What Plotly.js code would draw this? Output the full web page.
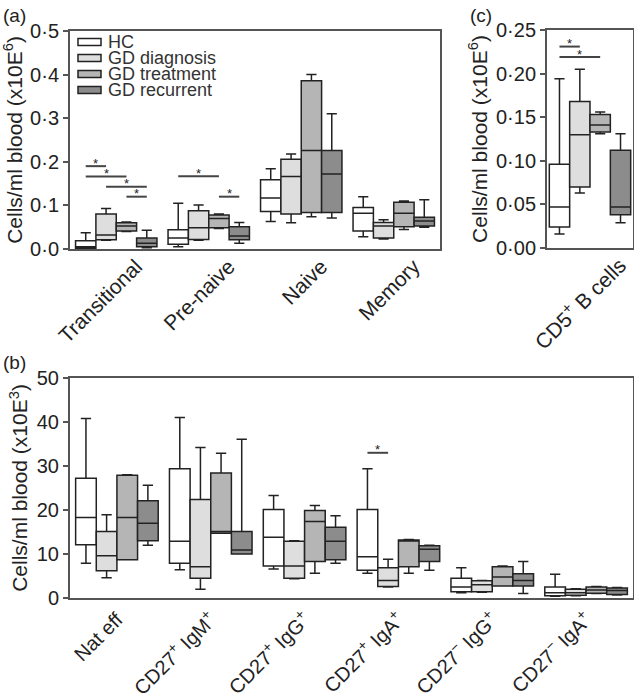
<!DOCTYPE html>
<html>
<head>
<meta charset="utf-8">
<script src="https://cdn.plot.ly/plotly-3.0.1.min.js"></script>
<style>html,body{margin:0;padding:0;background:#fff;}#chart{width:634px;height:700px;}</style>
</head>
<body>
<div id="chart"></div>
<script>
// ---------- DATA ----------
// group names (legend)
const groups = ['HC', 'GD diagnosis', 'GD treatment', 'GD recurrent'];

// panel (a)
const catsA = ['Transitional', 'Pre-naive', 'Naive', 'Memory'];
// each row: [lower whisker, Q1, median, Q3, upper whisker]
const a_HC    = [[0.000, 0.002, 0.005, 0.019, 0.037], [0.005, 0.011, 0.025, 0.044, 0.105], [0.063, 0.086, 0.117, 0.159, 0.184], [0.028, 0.041, 0.082, 0.095, 0.120]];
const a_Diag  = [[0.020, 0.021, 0.032, 0.080, 0.093], [0.020, 0.022, 0.049, 0.088, 0.101], [0.060, 0.080, 0.166, 0.206, 0.218], [0.023, 0.025, 0.053, 0.061, 0.067]];
const a_Treat = [[0.040, 0.041, 0.053, 0.060, 0.062], [0.047, 0.049, 0.070, 0.078, 0.080], [0.074, 0.084, 0.226, 0.386, 0.400], [0.045, 0.051, 0.082, 0.107, 0.110]];
const a_Rec   = [[0.003, 0.005, 0.013, 0.025, 0.043], [0.013, 0.021, 0.030, 0.051, 0.061], [0.071, 0.084, 0.172, 0.226, 0.310], [0.050, 0.053, 0.064, 0.073, 0.113]];

// panel (c)
const catsC = ['CD5<sup>+</sup> B cells'];
const c_HC    = [[0.016, 0.024, 0.047, 0.096, 0.194]];
const c_Diag  = [[0.063, 0.070, 0.130, 0.168, 0.205]];
const c_Treat = [[0.131, 0.133, 0.141, 0.153, 0.156]];
const c_Rec   = [[0.029, 0.038, 0.047, 0.112, 0.131]];

// panel (b)
const catsB = ['Nat eff', 'CD27<sup>+</sup> IgM<sup>+</sup>', 'CD27<sup>+</sup> IgG<sup>+</sup>', 'CD27<sup>+</sup> IgA<sup>+</sup>', 'CD27<sup>−</sup> IgG<sup>+</sup>', 'CD27<sup>−</sup> IgA<sup>+</sup>'];
const b_HC    = [[7.9, 12.1, 18.3, 27.2, 40.8], [6.4, 7.9, 12.9, 29.4, 41.0], [6.6, 7.3, 13.8, 20.1, 23.3], [5.6, 6.3, 9.4, 20.1, 29.4], [1.2, 1.4, 2.5, 4.5, 6.9], [0.4, 0.5, 1.2, 2.5, 5.4]];
const b_Diag  = [[4.6, 6.2, 9.6, 15.1, 18.9], [2.0, 4.5, 7.1, 22.4, 34.2], [4.4, 4.5, 7.3, 12.9, 13.0], [2.5, 2.6, 4.0, 6.9, 8.8], [1.3, 1.4, 3.0, 3.9, 4.0], [0.5, 0.6, 1.2, 2.0, 2.1]];
const b_Treat = [[8.7, 8.7, 18.3, 27.9, 28.0], [14.7, 14.7, 15.1, 28.4, 32.9], [5.6, 8.3, 17.4, 19.9, 21.0], [5.6, 7.1, 13.0, 13.2, 13.3], [2.7, 2.7, 4.8, 7.1, 7.3], [1.0, 1.1, 1.8, 2.5, 2.6]];
const b_Rec   = [[12.0, 13.0, 17.0, 22.1, 25.6], [10.0, 10.0, 10.9, 15.1, 36.1], [7.9, 8.7, 12.9, 16.1, 18.7], [6.3, 8.3, 11.1, 11.9, 12.0], [1.0, 2.7, 4.0, 5.5, 8.3], [0.7, 0.8, 1.7, 2.3, 2.4]];

// tick labels
const tickValsA = [0, 0.1, 0.2, 0.3, 0.4, 0.5];
const tickTextA = ['0·0', '0·1', '0·2', '0·3', '0·4', '0·5'];
const tickValsC = [0, 0.05, 0.10, 0.15, 0.20, 0.25];
const tickTextC = ['0·00', '0·05', '0·10', '0·15', '0·20', '0·25'];
const tickValsB = [0, 10, 20, 30, 40, 50];
const tickTextB = ['0', '10', '20', '30', '40', '50'];

// significance brackets: [category index, group i, group j, y]
const sigA = [[0, 0, 1, 0.19], [0, 0, 2, 0.166], [0, 1, 3, 0.143], [0, 2, 3, 0.12], [1, 0, 2, 0.167], [1, 2, 3, 0.12]];
const sigC = [[0, 0, 1, 0.231], [0, 0, 2, 0.219]];
const sigB = [[3, 0, 1, 33.0]];

// ---------- STYLE ----------
const fills = ['#ffffff', '#dedede', '#b5b5b5', '#8c8c8c'];
const FONT = 'Liberation Sans, Arial, sans-serif';
const W = 634, H = 700;
const BOXGAP = 0.12;

function boxTraces(cats, sets, xa, ya, agroup) {
  return sets.map((rows, g) => ({
    type: 'box',
    name: groups[g],
    x: cats,
    lowerfence: rows.map(r => r[0]),
    q1: rows.map(r => r[1]),
    median: rows.map(r => r[2]),
    q3: rows.map(r => r[3]),
    upperfence: rows.map(r => r[4]),
    xaxis: xa, yaxis: ya,
    alignmentgroup: agroup,
    offsetgroup: 'g' + g,
    fillcolor: fills[g],
    line: {color: '#222', width: 1.5},
    whiskerwidth: 0.5,
    showlegend: false,
    hoverinfo: 'skip'
  }));
}

const data = [].concat(
  boxTraces(catsA, [a_HC, a_Diag, a_Treat, a_Rec], 'x', 'y', 'A'),
  boxTraces(catsC, [c_HC, c_Diag, c_Treat, c_Rec], 'x2', 'y2', 'C'),
  boxTraces(catsB, [b_HC, b_Diag, b_Treat, b_Rec], 'x3', 'y3', 'B')
);

// offset of box centre j within a category group
function off(j) { const w = (1 - BOXGAP) / 4; return -(1 - BOXGAP) / 2 + (j + 0.5) * w; }

const shapes = [], annotations = [];
function addSig(list, xr, yr) {
  list.forEach(s => {
    const x0 = s[0] + off(s[1]), x1 = s[0] + off(s[2]);
    shapes.push({type: 'line', xref: xr, yref: yr, x0: x0, x1: x1, y0: s[3], y1: s[3], line: {color: '#444', width: 2}});
    annotations.push({xref: xr, yref: yr, x: (x0 + x1) / 2, y: s[3], text: '*', showarrow: false, yanchor: 'middle', yshift: 3, font: {family: FONT, size: 13, color: '#222'}});
  });
}
addSig(sigA, 'x', 'y');
addSig(sigC, 'x2', 'y2');
addSig(sigB, 'x3', 'y3');

// manual legend (panel a)
const legY = [42, 58, 74, 90];
groups.forEach((g, i) => {
  shapes.push({type: 'rect', xref: 'paper', yref: 'paper', x0: 78 / W, x1: 101 / W, y0: 1 - (legY[i] + 3.5) / H, y1: 1 - (legY[i] - 3.5) / H, fillcolor: fills[i], line: {color: '#222', width: 1.5}});
  annotations.push({xref: 'paper', yref: 'paper', x: 106 / W, y: 1 - legY[i] / H, xanchor: 'left', yanchor: 'middle', text: g, showarrow: false, font: {family: FONT, size: 18, color: '#333'}});
});

// panel letters
[['(a)', 1, 15], ['(b)', 1, 362], ['(c)', 468, 15]].forEach(p => {
  annotations.push({xref: 'paper', yref: 'paper', x: p[1] / W, y: 1 - p[2] / H, xanchor: 'left', yanchor: 'middle', text: p[0], showarrow: false, font: {family: FONT, size: 19, color: '#222'}});
});

const frame = {showline: true, mirror: true, linecolor: '#555', linewidth: 2, showgrid: false, zeroline: false};
const tfont = {family: FONT, size: 20, color: '#222'};
const xfont = {family: FONT, size: 21, color: '#222'};
const xfontB = {family: FONT, size: 20, color: '#222'};
function xax(dom, extra) {
  return Object.assign({domain: dom, type: 'category', ticks: '', tickangle: -45, tickfont: xfont, fixedrange: true}, frame, extra || {});
}
function yax(dom, rng, tv, tt, title, extra) {
  return Object.assign({domain: dom, range: rng, tickmode: 'array', tickvals: tv, ticktext: tt, ticks: 'outside', ticklen: 5, tickwidth: 2, tickcolor: '#555', tickfont: tfont,
    title: {text: title, font: {family: FONT, size: 21, color: '#222'}, standoff: 3}, fixedrange: true}, frame, extra || {});
}

const layout = {
  width: W, height: H,
  margin: {l: 0, r: 0, t: 0, b: 0},
  paper_bgcolor: '#fff', plot_bgcolor: '#fff',
  boxmode: 'group', boxgap: BOXGAP, boxgroupgap: 0,
  showlegend: false,
  font: {family: FONT, color: '#222'},
  xaxis: xax([70 / W, 440 / W], {anchor: 'y', range: [-0.5, 3.5], ticklabelshift: 20, ticklabelstandoff: -5}),
  yaxis: yax([1 - 249 / H, 1 - 31 / H], [0, 0.5], tickValsA, tickTextA, 'Cells/ml blood (x10E<sup>6</sup>)', {anchor: 'x'}),
  xaxis2: xax([547 / W, 633 / W], {anchor: 'y2', range: [-0.465, 0.465], ticklabelshift: 30, ticklabelstandoff: -5}),
  yaxis2: yax([1 - 248 / H, 1 - 30 / H], [0, 0.25], tickValsC, tickTextC, 'Cells/ml blood (x10E<sup>6</sup>)', {anchor: 'x2'}),
  xaxis3: xax([70 / W, 633 / W], {anchor: 'y3', range: [-0.5, 5.5], tickfont: xfontB}),
  yaxis3: yax([1 - 598 / H, 1 - 378 / H], [0, 50], tickValsB, tickTextB, 'Cells/ml blood (x10E<sup>3</sup>)', {anchor: 'x3'}),
  shapes: shapes,
  annotations: annotations
};

Plotly.newPlot('chart', data, layout, {staticPlot: true, displayModeBar: false});
</script>
</body>
</html>
